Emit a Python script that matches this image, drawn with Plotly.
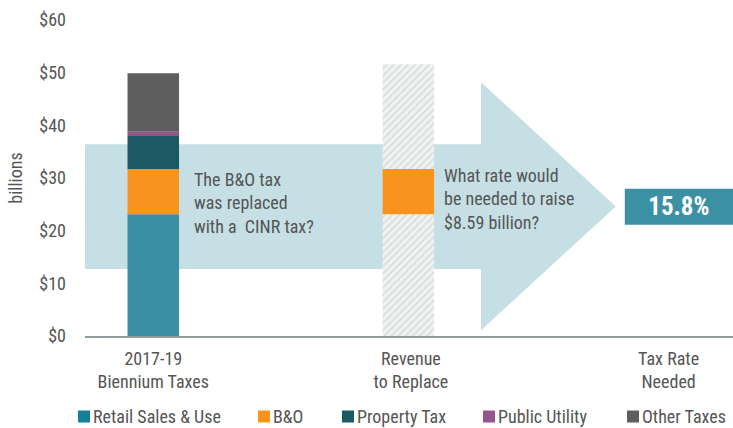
import numpy as np
import plotly.graph_objects as go

# ---------------- data ----------------
categories = ["2017-19<br>Biennium Taxes", "Revenue<br>to Replace", "Tax Rate<br>Needed"]
tax_names = ["Retail Sales & Use", "B&O", "Property Tax", "Public Utility", "Other Taxes"]
biennium_values = [23.1, 8.59, 6.3, 0.8, 11.1]          # $ billions
revenue_to_replace = 8.59                                # B&O revenue, $ billions
revenue_backdrop = 51.6                                  # hatched backdrop height
rate_needed = "15.8%"
note_left = "The B&O tax<br>was replaced<br>with a  CINR tax?"
note_right = "What rate would<br>be needed to raise<br>$8.59 billion?"
y_ticks = [0, 10, 20, 30, 40, 50, 60]
y_labels = ["$0", "$10", "$20", "$30", "$40", "$50", "$60"]

# ---------------- style ----------------
colors = ["#3a8fa3", "#f7941d", "#1b5a62", "#92568d", "#5e5e5e"]
legend_colors = ["#16809b", "#f7941d", "#1b5a62", "#92568d", "#5e5e5e"]
FONT = "Liberation Sans Narrow, Roboto Condensed, Arial Narrow, DejaVu Sans Condensed, sans-serif"
TXT = "#555555"
W, H = 733, 428
ML, MR, MT, MB = 85, 0, 20, 92
PW, PH = W - ML - MR, H - MT - MB
XR = [-0.265, 2.25]
BAR_W = 0.2
X2 = 0.99   # slight offset of the middle bar, as in the original

fig = go.Figure()

# stacked biennium bar
bases = np.concatenate([[0], np.cumsum(biennium_values)[:-1]])
for name, val, base, col in zip(tax_names, biennium_values, bases, colors):
    fig.add_trace(go.Bar(x=[0], y=[val], base=[base], width=BAR_W, name=name,
                         marker=dict(color=col, line=dict(width=0)),
                         showlegend=False, hoverinfo="name+y"))

# hatched backdrop for revenue to replace
fig.add_trace(go.Bar(x=[X2], y=[revenue_backdrop], base=[0], width=BAR_W,
                     marker=dict(color="#f1f2f2", line=dict(width=0),
                                 pattern=dict(shape="/", fgcolor="#c4c7c8", size=5, solidity=0.35)),
                     showlegend=False, hoverinfo="skip"))
# B&O revenue to replace
fig.add_trace(go.Bar(x=[X2], y=[revenue_to_replace], base=[biennium_values[0]], width=BAR_W,
                     marker=dict(color=colors[1], line=dict(width=0)),
                     showlegend=False, hoverinfo="y"))
# rate needed box
fig.add_trace(go.Bar(x=[2.04], y=[6.85], base=[21.1], width=0.42,
                     marker=dict(color="#3b90a4", line=dict(width=0)),
                     text=[rate_needed], textposition="inside", insidetextanchor="middle",
                     textfont=dict(color="white", size=25, family=FONT, weight="bold"),
                     constraintext="none", showlegend=False, hoverinfo="skip"))

# big arrow (decorative, behind bars)
arrow_path = ("M -0.28 12.7 L 1.272 12.7 L 1.272 1.1 L 1.795 24.6 "
              "L 1.272 48.2 L 1.272 36.4 L -0.28 36.4 Z")
shapes = [dict(type="path", path=arrow_path, xref="x", yref="y", layer="below",
               fillcolor="#c5dfe4", line=dict(width=0))]

annotations = [
    dict(x=0.15, y=25.3, xref="x", yref="y", text=note_left, showarrow=False,
         xanchor="left", yanchor="middle", align="left",
         font=dict(family=FONT, size=18, color=TXT)),
    dict(x=1.12, y=26.0, xref="x", yref="y", text=note_right, showarrow=False,
         xanchor="left", yanchor="middle", align="left",
         font=dict(family=FONT, size=18, color=TXT)),
]

# custom legend (square + label)
legend_px = [78, 258, 342, 483, 627]
ly = (MT + PH - 416.5) / PH
for name, col, px in zip(tax_names, legend_colors, legend_px):
    x0 = (px - ML) / PW
    x1 = (px + 12 - ML) / PW
    shapes.append(dict(type="rect", xref="paper", yref="paper", x0=x0, x1=x1,
                       y0=ly - 6 / PH, y1=ly + 6 / PH, fillcolor=col, line=dict(width=0)))
    annotations.append(dict(x=(px + 13 - ML) / PW, y=ly, xref="paper", yref="paper",
                            text=name, showarrow=False, xanchor="left", yanchor="middle",
                            font=dict(family=FONT, size=18, color=TXT)))

fig.update_layout(
    width=W, height=H, margin=dict(l=ML, r=MR, t=MT, b=MB, autoexpand=False),
    paper_bgcolor="white", plot_bgcolor="white",
    barmode="overlay", showlegend=False,
    shapes=shapes, annotations=annotations,
    font=dict(family=FONT, size=18, color=TXT),
    xaxis=dict(range=XR, tickmode="array", tickvals=[0, 1, 2], ticktext=categories,
               showgrid=False, zeroline=False, showline=True, linecolor="#8f9c9e",
               linewidth=2, ticks="", ticklabelstandoff=5,
               tickfont=dict(family=FONT, size=18, color=TXT), fixedrange=True),
    yaxis=dict(range=[0, 60], tickmode="array", tickvals=y_ticks, ticktext=y_labels,
               showgrid=False, zeroline=False, showline=False, ticks="",
               ticklabelstandoff=18,
               tickfont=dict(family=FONT, size=18, color=TXT),
               title=dict(text="billions", standoff=12,
                          font=dict(family=FONT, size=18, color=TXT)),
               fixedrange=True),
)

fig.write_html("out.html", config={"displayModeBar": False},
               post_script="document.body.style.margin='0';document.body.style.overflow='hidden';")
